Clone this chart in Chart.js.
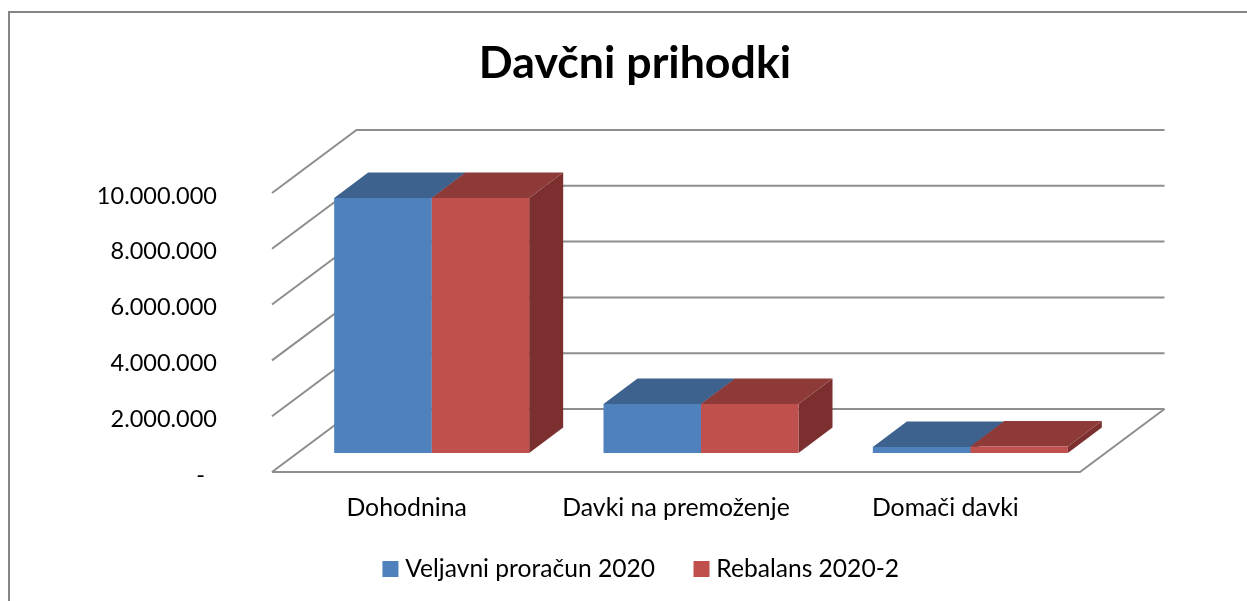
<!DOCTYPE html>
<html>
<head>
<meta charset="utf-8">
<title>Davčni prihodki</title>
<script src="https://cdn.jsdelivr.net/npm/chart.js@4"></script>
<style>
	html, body { margin: 0; padding: 0; background: #fff; overflow: hidden; }
	canvas { display: block; }
</style>
</head>
<body>
<canvas id="davki" width="1247" height="601"></canvas>
<script>
const categories = ['Dohodnina', 'Davki na premoženje', 'Domači davki'];
const seriesNames = ['Veljavni proračun 2020', 'Rebalans 2020-2'];
const veljavni = [9140000, 1760000, 215000];
const rebalans = [9140000, 1760000, 235000];
const yTickLabels = ['-  ', '2.000.000', '4.000.000', '6.000.000', '8.000.000', '10.000.000'];

const fontName = 'Lato, sans-serif';
const textSize = 23.5;
const categorySize = 24.8;
const legendSize = 24.6;
const frontColors = ['#4F81BD', '#C0504D'];
const topColors = ['#3E628E', '#8E3A38'];
const sideColors = ['#32506F', '#7B2F2E'];
const lineColor = '#8E8E8E';

// projection of the depth axis
const wall = { dx: 84.5, dy: -63 };
const barShift = { dx: 25, dy: -19 };
const barDepth = { dx: 34, dy: -25.5 };

function poly(ctx, color, pts) {
	ctx.fillStyle = color;
	ctx.beginPath();
	ctx.moveTo(pts[0][0], pts[0][1]);
	for (let i = 1; i < pts.length; i++) ctx.lineTo(pts[i][0], pts[i][1]);
	ctx.closePath();
	ctx.fill();
}

// height the layout gave the legend, so the plot bottom stays on the floor line
function chartLegendHeight(chart) {
	return chart.legend ? chart.legend.height : 0;
}

const box3d = {
	id: 'box3d',
	afterLayout(chart) {
		// legend padding doubles as item gap, so move the box to the real row
		const lg = chart.legend;
		lg.top = 569 - legendSize / 2 - chart.options.plugins.legend.labels.padding;
		lg.left += 8.5; lg.right += 8.5;
	},
	beforeDatasetsDraw(chart) {
		const ctx = chart.ctx;
		const { left, right } = chart.chartArea;
		const yScale = chart.scales.y;

		// outer frame, runs off the page on the right and bottom
		ctx.save();
		ctx.strokeStyle = '#868686';
		ctx.lineWidth = 2;
		ctx.beginPath();
		ctx.moveTo(9, 601);
		ctx.lineTo(9, 12);
		ctx.lineTo(1247, 12);
		ctx.stroke();

		// left wall diagonals and back wall lines
		ctx.strokeStyle = lineColor;
		ctx.lineWidth = 2;
		yScale.ticks.forEach(t => {
			const y = yScale.getPixelForValue(t.value);
			ctx.beginPath();
			ctx.moveTo(left, y);
			ctx.lineTo(left + wall.dx, y + wall.dy);
			ctx.lineTo(right + wall.dx, y + wall.dy);
			ctx.stroke();
		});
		// front edge of the floor
		const y0 = yScale.getPixelForValue(0);
		ctx.beginPath();
		ctx.moveTo(left, y0);
		ctx.lineTo(right, y0);
		ctx.lineTo(right + wall.dx, y0 + wall.dy);
		ctx.stroke();
		ctx.restore();

		// front faces are moved back by the library draw, restored after
		ctx.save();
		ctx.translate(barShift.dx, barShift.dy);
		chart.data.datasets.forEach((ds, i) => {
			chart.getDatasetMeta(i).data.forEach(bar => {
				const l = bar.x - bar.width / 2;
				const r = bar.x + bar.width / 2;
				poly(ctx, sideColors[i], [[r, bar.y], [r + barDepth.dx, bar.y + barDepth.dy],
					[r + barDepth.dx, bar.base + barDepth.dy], [r, bar.base]]);
				poly(ctx, topColors[i], [[l, bar.y], [l + barDepth.dx, bar.y + barDepth.dy],
					[r + barDepth.dx, bar.y + barDepth.dy], [r, bar.y]]);
			});
		});
	},
	afterDatasetsDraw(chart) {
		chart.ctx.restore();
	}
};

new Chart(document.getElementById('davki').getContext('2d'), {
	type: 'bar',
	data: {
		labels: categories,
		datasets: [
			{ label: seriesNames[0], data: veljavni, backgroundColor: frontColors[0], clip: false },
			{ label: seriesNames[1], data: rebalans, backgroundColor: frontColors[1], clip: false }
		]
	},
	options: {
		responsive: false,
		animation: false,
		layout: { padding: { left: 23, right: 0, top: 0, bottom: 0 } },
		datasets: { bar: { categoryPercentage: 0.724, barPercentage: 1 } },
		scales: {
			x: {
				grid: { display: false },
				border: { display: false },
				ticks: { color: '#000', font: { family: fontName, size: categorySize }, padding: 13, maxRotation: 0 },
				afterFit(scale) { scale.height = 129 - chartLegendHeight(scale.chart); }
			},
			y: {
				min: 0,
				max: 10000000,
				grid: { display: false },
				border: { display: false },
				ticks: {
					stepSize: 2000000,
					padding: 47,
					labelOffset: 3,
					color: '#000',
					font: { family: fontName, size: textSize },
					callback: (value, index) => yTickLabels[index]
				},
				afterFit(scale) { scale.width = 249; }
			},
			// empty axis, keeps the plot's right edge clear of the back wall
			spacer: {
				position: 'right',
				grid: { display: false },
				border: { display: false },
				ticks: { display: false },
				afterFit(scale) { scale.width = 167; }
			}
		},
		plugins: {
			title: {
				display: true,
				text: 'Davčni prihodki',
				color: '#000',
				font: { family: fontName, size: 44.7, weight: 'bold', lineHeight: 1.2 },
				padding: { top: 37, bottom: 102.3 }
			},
			legend: {
				position: 'bottom',
				labels: {
					color: '#000',
					font: { family: fontName, size: legendSize },
					boxWidth: 5,
					boxHeight: 5,
					padding: 44,
					// thick stroke makes the 16px square but keeps the text close to it
					generateLabels: chart => chart.data.datasets.map((ds, i) => ({
						text: ds.label,
						fillStyle: frontColors[i],
						strokeStyle: frontColors[i],
						lineWidth: 11,
						datasetIndex: i
					}))
				}
			},
			tooltip: { enabled: false }
		}
	},
	plugins: [box3d]
});
</script>
</body>
</html>
